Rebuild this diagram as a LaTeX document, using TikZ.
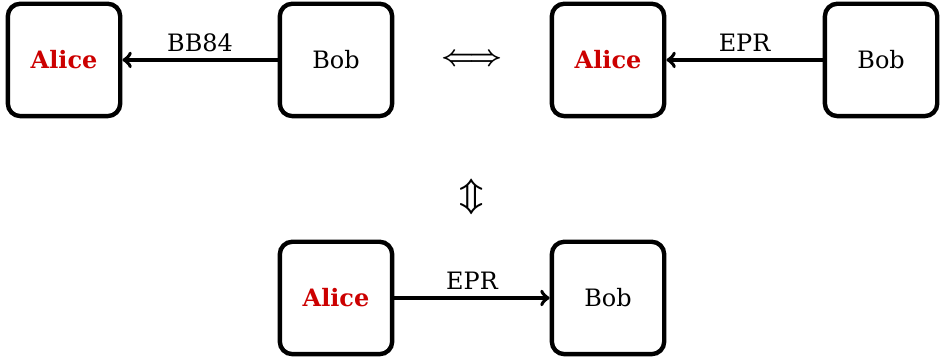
\documentclass[tikz,border=0pt]{standalone}
\usepackage{amsmath}
\usepackage{fontspec}
\setmainfont{DejaVu Serif}
\usepackage{xcolor}
\usetikzlibrary{arrows}
\definecolor{alicered}{RGB}{204,0,0}

\begin{document}
\begin{tikzpicture}[->, >=to, party/.style={draw, rounded corners=0.22cm, line width=2.2pt, minimum size=1.98cm, font=\fontsize{12}{14}\selectfont}, alice/.style={party, text=alicered, font=\fontsize{12}{14}\selectfont\bfseries}, link/.style={line width=1.9pt}, equiv/.style={font=\fontsize{15.5}{18}\selectfont\boldmath}]
\useasboundingbox (0,0) rectangle (16.58,6.36);
\node[alice] (a1) at (1.128,5.304) {Alice};
\node[party] (b1) at (5.920,5.304) {Bob};
\node[alice] (a2) at (10.713,5.304) {Alice};
\node[party] (b2) at (15.524,5.304) {Bob};
\node[alice] (a3) at (5.920,1.110) {Alice};
\node[party] (b3) at (10.713,1.110) {Bob};
\node[equiv] (lr) at (8.317,5.304) {$\Longleftrightarrow$};
\node[equiv, font=\fontsize{19}{22}\selectfont\boldmath] (ud) at (8.317,2.890) {$\Updownarrow$};
\path[link]
(b1) edge node[above, font=\fontsize{12}{14}\selectfont] {BB84} (a1)
(b2) edge node[above, font=\fontsize{12}{14}\selectfont] {EPR} (a2)
(a3) edge node[above, font=\fontsize{12}{14}\selectfont] {EPR} (b3);
\end{tikzpicture}
\end{document}
